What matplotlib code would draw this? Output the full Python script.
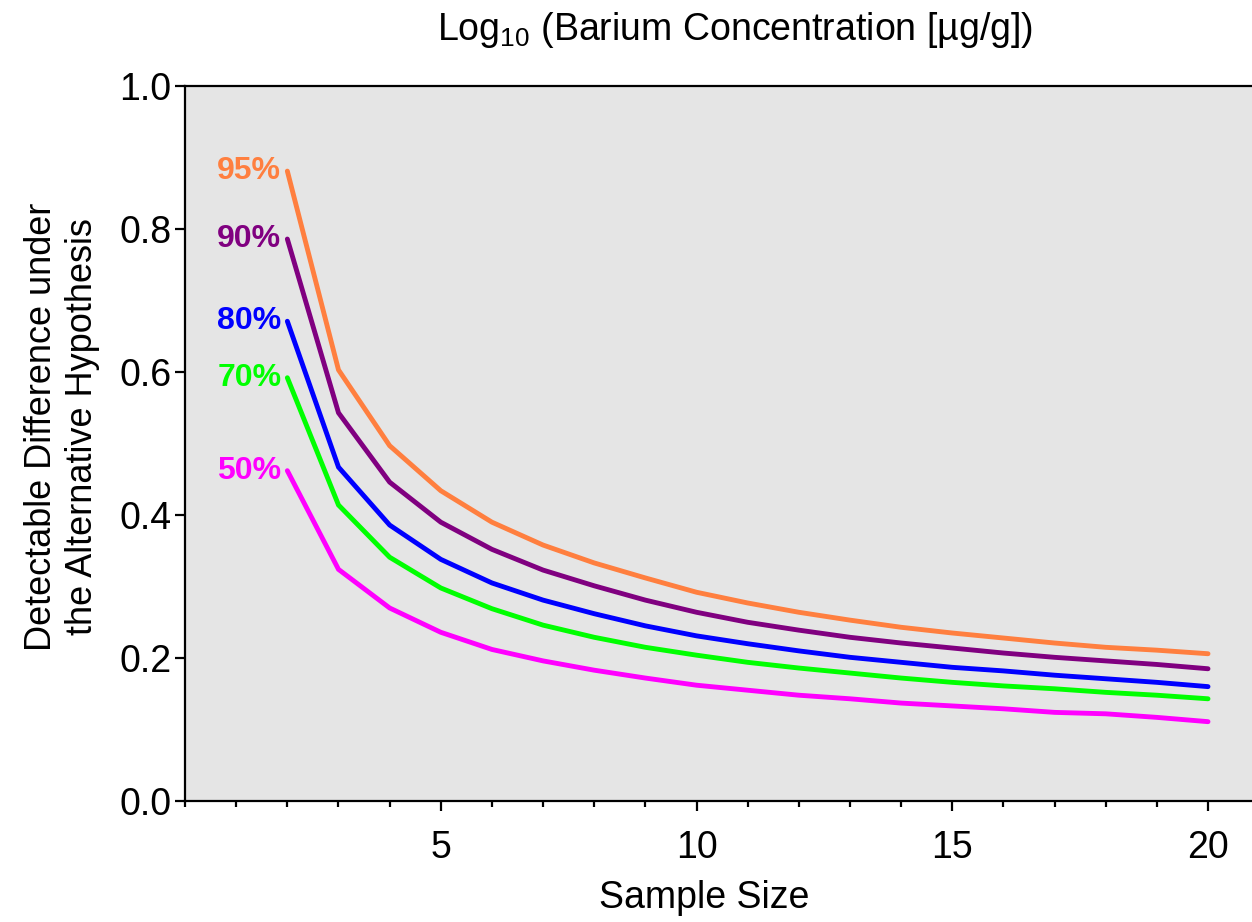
import numpy as np
import matplotlib
matplotlib.use("Agg")
import matplotlib.pyplot as plt
from matplotlib.ticker import MultipleLocator

plt.rcParams['font.family'] = ['Liberation Sans', 'DejaVu Sans']
plt.rcParams['mathtext.fontset'] = 'custom'
plt.rcParams['mathtext.rm'] = 'Liberation Sans'

# sample sizes
n = list(range(2, 21))

# detectable difference for each power level
p95 = [0.881, 0.603, 0.497, 0.434, 0.390, 0.358, 0.333, 0.312, 0.292, 0.277,
       0.264, 0.253, 0.243, 0.235, 0.228, 0.221, 0.215, 0.211, 0.206]
p90 = [0.786, 0.543, 0.446, 0.390, 0.352, 0.323, 0.301, 0.281, 0.264, 0.250,
       0.239, 0.229, 0.221, 0.214, 0.207, 0.201, 0.196, 0.191, 0.185]
p80 = [0.671, 0.467, 0.386, 0.338, 0.305, 0.281, 0.262, 0.245, 0.231, 0.220,
       0.210, 0.201, 0.194, 0.187, 0.182, 0.176, 0.171, 0.166, 0.160]
p70 = [0.592, 0.414, 0.341, 0.298, 0.269, 0.246, 0.229, 0.215, 0.204, 0.194,
       0.186, 0.179, 0.172, 0.166, 0.161, 0.157, 0.152, 0.148, 0.143]
p50 = [0.462, 0.324, 0.270, 0.236, 0.212, 0.196, 0.183, 0.172, 0.162, 0.155,
       0.148, 0.143, 0.137, 0.133, 0.129, 0.124, 0.122, 0.117, 0.111]

series = [("95%", p95, "#ff7f3f"), ("90%", p90, "#800080"),
          ("80%", p80, "#0000ff"), ("70%", p70, "#00ff00"),
          ("50%", p50, "#ff00ff")]

fig = plt.figure(figsize=(12.52, 9.22), dpi=100)
ax = fig.add_axes([0.1478, 0.1312, 0.8522, 0.7755])
ax.set_facecolor("#e5e5e5")

for lab, vals, col in series:
    ax.plot(n, vals, color=col, lw=3.5, solid_capstyle='round', solid_joinstyle='miter')
    ax.annotate(lab, (n[0], vals[0]), xytext=(-6, 0), textcoords='offset pixels',
                ha='right', va='center', color=col, fontsize=23, fontweight='bold')

ax.set_xlim(0, 20.86)
ax.set_ylim(0, 1.0)
ax.xaxis.set_major_locator(MultipleLocator(5))
ax.xaxis.set_minor_locator(MultipleLocator(1))
ax.set_xticks([5, 10, 15, 20])
ax.set_yticks(np.arange(0, 1.01, 0.2))
ax.set_yticklabels([f"{v:.1f}" for v in np.arange(0, 1.01, 0.2)])
ax.tick_params(axis='both', which='major', direction='out', length=7, width=1.6,
               labelsize=27, pad=3)
ax.tick_params(axis='x', which='minor', direction='out', length=4.5, width=1.6)
ax.tick_params(axis='x', which='major', pad=14)

for s in ['left', 'bottom', 'top']:
    ax.spines[s].set_linewidth(1.6)
ax.spines['right'].set_visible(False)

ax.set_xlabel("Sample Size", fontsize=27)
ax.xaxis.set_label_coords(0.487, -0.11)
ax.set_ylabel("Detectable Difference under\nthe Alternative Hypothesis",
              fontsize=26)
ax.yaxis.set_label_coords(-0.08, 0.524)
ax.set_title("Log$_{10}$ (Barium Concentration [\u00b5g/g])", fontsize=27,
             pad=33, x=0.515)

fig.savefig("out.png", dpi=100)
